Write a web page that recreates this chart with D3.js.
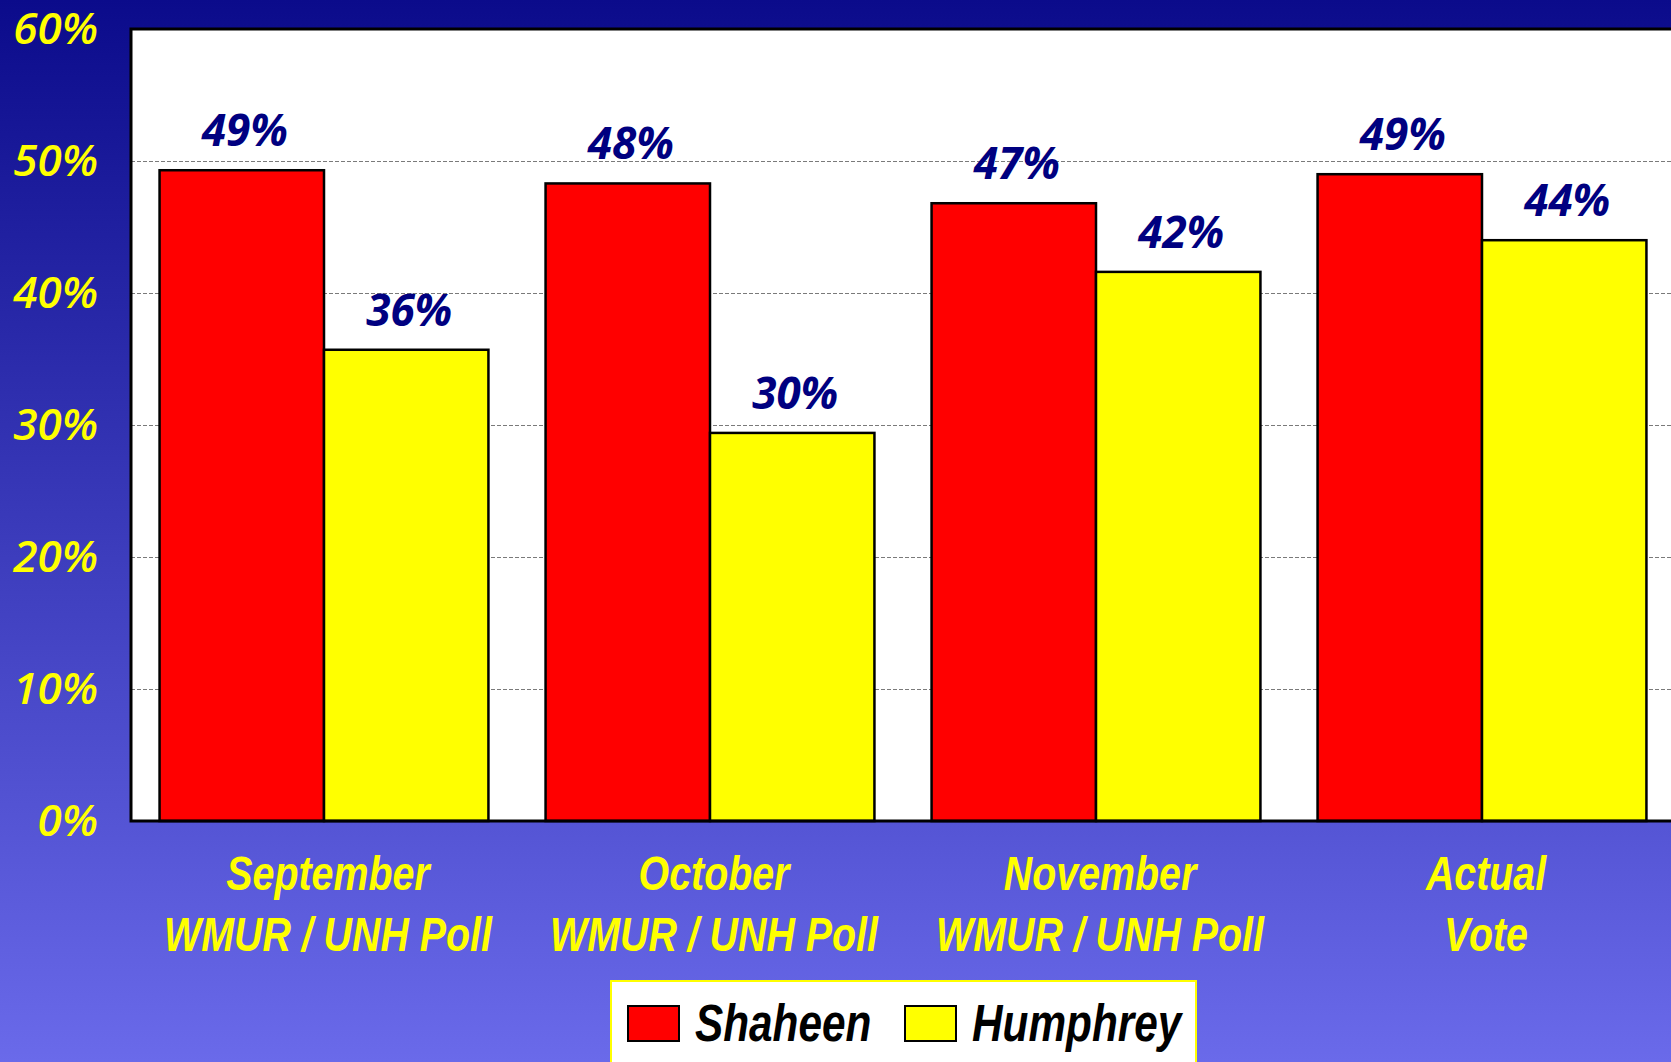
<!DOCTYPE html>
<html>
<head>
<meta charset="utf-8">
<script src="https://cdn.jsdelivr.net/npm/d3@7"></script>
<style>
  body { margin: 0; padding: 0; overflow: hidden; }
  .tick-label { font-family: "Open Sans", "Liberation Sans", sans-serif; font-style: italic; font-weight: 600; fill: #ffff00; }
  .value-label { font-family: "Open Sans", "Liberation Sans", sans-serif; font-style: italic; font-weight: 700; fill: #000080; }
  .cat-label { font-family: "Liberation Sans", sans-serif; font-style: italic; font-weight: 700; fill: #ffff00; }
  .legend-label { font-family: "Liberation Sans", sans-serif; font-style: italic; font-weight: 700; fill: #000; }
</style>
</head>
<body>
<div id="chart"></div>
<script>
// categories (two lines each) and series
const categories = ["September", "October", "November", "Actual"];
const categoryLines = [
  ["September", "WMUR / UNH Poll"],
  ["October", "WMUR / UNH Poll"],
  ["November", "WMUR / UNH Poll"],
  ["Actual", "Vote"]
];
const seriesNames = ["Shaheen", "Humphrey"];
const seriesColors = ["#ff0000", "#ffff00"];
const shaheen = [49.3, 48.3, 46.8, 49.0];
const humphrey = [35.7, 29.4, 41.6, 44.0];
const shaheenLabels = ["49%", "48%", "47%", "49%"];
const humphreyLabels = ["36%", "30%", "42%", "44%"];
const yTicks = [0, 10, 20, 30, 40, 50, 60];

const width = 1671, height = 1062;
const margin = { top: 29, left: 131, bottom: 241 };
// no narrow font installed, so squeeze the condensed texts
const narrow = 0.82;

const data = categories.map((c, i) => ({
  category: c,
  lines: categoryLines[i],
  values: [
    { series: seriesNames[0], value: shaheen[i], label: shaheenLabels[i] },
    { series: seriesNames[1], value: humphrey[i], label: humphreyLabels[i] }
  ]
}));

const svg = d3.select("#chart").append("svg")
  .attr("width", width)
  .attr("height", height);

// background gradient
const grad = svg.append("defs").append("linearGradient")
  .attr("id", "bg").attr("x1", 0).attr("y1", 0).attr("x2", 0).attr("y2", 1);
grad.append("stop").attr("offset", "0%").attr("stop-color", "#0b0b8b");
grad.append("stop").attr("offset", "100%").attr("stop-color", "#6a6aea");
svg.append("rect").attr("width", width).attr("height", height).attr("fill", "url(#bg)");

const plotBottom = height - margin.bottom;

const x0 = d3.scaleBand()
  .domain(categories)
  .range([margin.left, margin.left + 1544])
  .paddingInner(0.148)
  .paddingOuter(0.074);

const x1 = d3.scaleBand()
  .domain(seriesNames)
  .range([0, x0.bandwidth()]);

const y = d3.scaleLinear()
  .domain([0, 60])
  .range([plotBottom, margin.top]);

const color = d3.scaleOrdinal().domain(seriesNames).range(seriesColors);

// plot area
svg.append("rect")
  .attr("x", margin.left)
  .attr("y", y(60))
  .attr("width", width - margin.left + 10)
  .attr("height", y(0) - y(60))
  .attr("fill", "#fff");

// gridlines
svg.append("g")
  .selectAll("line")
  .data(yTicks.filter(d => d > 0 && d < 60))
  .join("line")
  .attr("x1", margin.left)
  .attr("x2", width)
  .attr("y1", d => y(d) + 0.5)
  .attr("y2", d => y(d) + 0.5)
  .attr("stroke", "#7a7a7a")
  .attr("stroke-width", 1)
  .attr("stroke-dasharray", "4,2");

// bars
const groups = svg.append("g")
  .selectAll("g")
  .data(data)
  .join("g")
  .attr("transform", d => `translate(${x0(d.category)},0)`);

groups.selectAll("rect")
  .data(d => d.values)
  .join("rect")
  .attr("x", d => x1(d.series))
  .attr("y", d => y(d.value))
  .attr("width", x1.bandwidth())
  .attr("height", d => y(0) - y(d.value))
  .attr("fill", d => color(d.series))
  .attr("stroke", "#000")
  .attr("stroke-width", 2.5);

groups.selectAll("text")
  .data(d => d.values)
  .join("text")
  .attr("class", "value-label")
  .attr("x", d => x1(d.series) + x1.bandwidth() / 2 + 3)
  .attr("y", d => y(d.value) - 24)
  .attr("text-anchor", "middle")
  .attr("font-size", 44)
  .text(d => d.label);

// plot frame (left, top, bottom)
svg.append("path")
  .attr("d", `M${width + 5},${y(60)}H${margin.left}V${y(0)}H${width + 5}`)
  .attr("fill", "none")
  .attr("stroke", "#000")
  .attr("stroke-width", 3);

// y axis labels
const yAxis = d3.axisLeft(y)
  .tickValues(yTicks)
  .tickFormat(d => d + "%")
  .tickSize(0)
  .tickPadding(33);

svg.append("g")
  .attr("transform", `translate(${margin.left},0)`)
  .call(yAxis)
  .call(g => g.select(".domain").remove())
  .call(g => g.selectAll("text")
    .attr("class", "tick-label")
    .attr("font-size", 44)
    .attr("dy", "0.33em"));

// category labels
const catLabels = svg.append("g")
  .selectAll("text")
  .data(data)
  .join("text")
  .attr("class", "cat-label")
  .attr("font-size", 48)
  .attr("text-anchor", "middle")
  .attr("transform", d => `translate(${x0(d.category) + x0.bandwidth() / 2 + 4},890) scale(${narrow},1)`);

catLabels.selectAll("tspan")
  .data(d => d.lines)
  .join("tspan")
  .attr("x", 0)
  .attr("y", (d, i) => i * 61)
  .text(d => d);

// legend
const legend = svg.append("g");
legend.append("rect")
  .attr("x", 611).attr("y", 981)
  .attr("width", 585).attr("height", 100)
  .attr("fill", "#fff")
  .attr("stroke", "#ffff00")
  .attr("stroke-width", 2);

const legendX = [628, 905];
const items = legend.selectAll("g.item")
  .data(seriesNames)
  .join("g")
  .attr("class", "item")
  .attr("transform", (d, i) => `translate(${legendX[i]},1006)`);

items.append("rect")
  .attr("width", 51).attr("height", 35)
  .attr("fill", d => color(d))
  .attr("stroke", "#000")
  .attr("stroke-width", 2);

items.append("text")
  .attr("class", "legend-label")
  .attr("transform", `translate(67,35) scale(${narrow + 0.01},1)`)
  .attr("font-size", 51)
  .text(d => d);
</script>
</body>
</html>
